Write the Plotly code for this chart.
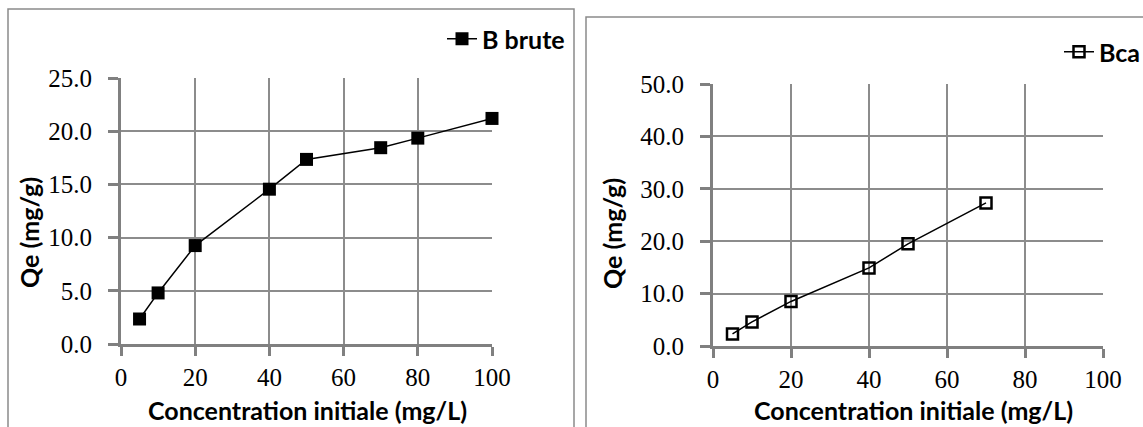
import plotly.graph_objects as go

W, H = 1143, 427

# Data
conc_brute = [5, 10, 20, 40, 50, 70, 80, 100]
qe_brute = [2.35, 4.8, 9.25, 14.55, 17.35, 18.45, 19.35, 21.2]
conc_bca = [5, 10, 20, 40, 50, 70]
qe_bca = [2.3, 4.6, 8.5, 14.9, 19.5, 27.3]

x_ticks = [0, 20, 40, 60, 80, 100]
y_ticks_left = [0, 5, 10, 15, 20, 25]
y_ticks_right = [0, 10, 20, 30, 40, 50]

x_title = "Concentration initiale (mg/L)"
y_title = "Qe (mg/g)"

def px_x(p):
    return p / W

def px_y(p):
    return 1 - p / H

tick_font = dict(family="Liberation Serif", size=25, color="black")
title_font = dict(family="Lato", size=25, color="black")
legend_font = dict(family="Lato", size=25, color="black", weight="bold")
GRID = "#8c8c8c"
AXIS = "#808080"

fig = go.Figure()

fig.add_trace(go.Scatter(
    x=conc_brute, y=qe_brute, mode="lines+markers", name="B brute",
    line=dict(color="black", width=1.5),
    marker=dict(symbol="square", size=13, color="black"),
    xaxis="x", yaxis="y", legend="legend", showlegend=True, cliponaxis=False,
))
fig.add_trace(go.Scatter(
    x=conc_bca, y=qe_bca, mode="lines+markers", name="Bca",
    line=dict(color="black", width=1.5),
    marker=dict(symbol="square-open", size=11, color="black", line=dict(width=2.5, color="black")),
    xaxis="x2", yaxis="y2", legend="legend2", showlegend=True, cliponaxis=False,
))

def xaxis(domain, anchor):
    return dict(
        domain=domain, anchor=anchor, range=[0, 100], tickvals=x_ticks,
        ticktext=[str(v) for v in x_ticks], tickfont=tick_font,
        showgrid=True, gridcolor=GRID, gridwidth=1.5,
        showline=True, linecolor=AXIS, linewidth=3,
        ticks="outside", ticklen=9, tickwidth=3, tickcolor=AXIS,
        ticklabelstandoff=0,
        zeroline=False, fixedrange=True,
    )

def yaxis(domain, anchor, rng, vals):
    return dict(
        domain=domain, anchor=anchor, range=rng, tickvals=vals,
        ticktext=[f"{v:.1f}" for v in vals], tickfont=tick_font,
        showgrid=True, gridcolor=GRID, gridwidth=1.5,
        showline=True, linecolor=AXIS, linewidth=3,
        ticks="outside", ticklen=10, tickwidth=3, tickcolor=AXIS,
        ticklabelstandoff=11,
        zeroline=False, fixedrange=True,
    )

fig.update_layout(
    width=W, height=H, margin=dict(l=0, r=0, t=0, b=0, autoexpand=False),
    paper_bgcolor="white", plot_bgcolor="white", showlegend=True,
    xaxis=xaxis([px_x(121), px_x(492)], "y"),
    yaxis=yaxis([px_y(344), px_y(78)], "x", [0, 25], y_ticks_left),
    xaxis2=xaxis([px_x(713), px_x(1103)], "y2"),
    yaxis2=yaxis([px_y(346), px_y(84)], "x2", [0, 50], y_ticks_right),
    legend=dict(x=px_x(570), y=px_y(39), xanchor="right", yanchor="middle",
                font=legend_font, bgcolor="rgba(0,0,0,0)", itemwidth=30),
    legend2=dict(x=px_x(1146), y=px_y(52), xanchor="right", yanchor="middle",
                 font=legend_font, bgcolor="rgba(0,0,0,0)", itemwidth=30),
    shapes=[
        dict(type="rect", xref="paper", yref="paper",
             x0=px_x(8), x1=px_x(574), y0=-0.05, y1=px_y(9),
             line=dict(color="#8a8a8a", width=1.5)),
        dict(type="rect", xref="paper", yref="paper",
             x0=px_x(586), x1=1.05, y0=-0.05, y1=px_y(17),
             line=dict(color="#8a8a8a", width=1.5)),
    ],
    annotations=[
        dict(text=f"<b>{x_title}</b>", xref="paper", yref="paper",
             x=px_x(307), y=px_y(410), showarrow=False, font=title_font,
             xanchor="center", yanchor="middle"),
        dict(text=f"<b>{x_title}</b>", xref="paper", yref="paper",
             x=px_x(913), y=px_y(410), showarrow=False, font=title_font,
             xanchor="center", yanchor="middle"),
        dict(text=f"<b>{y_title}</b>", xref="paper", yref="paper",
             x=px_x(29), y=px_y(233), showarrow=False, font=title_font,
             textangle=-90, xanchor="center", yanchor="middle"),
        dict(text=f"<b>{y_title}</b>", xref="paper", yref="paper",
             x=px_x(612), y=px_y(234), showarrow=False, font=title_font,
             textangle=-90, xanchor="center", yanchor="middle"),
    ],
)

fig.write_html("out.html")
